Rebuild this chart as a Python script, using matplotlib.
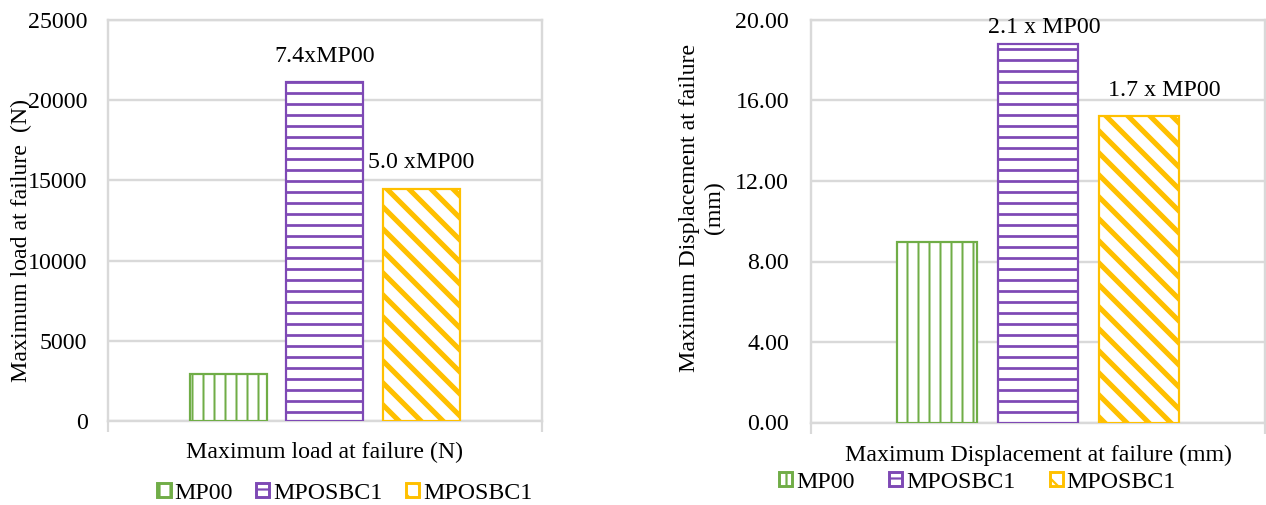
import matplotlib
matplotlib.use("Agg")
import matplotlib.pyplot as plt
from matplotlib.patches import Patch

plt.rcParams['font.family'] = ['Liberation Serif', 'DejaVu Serif']

series = ["MP00", "MPOSBC1", "MPOSBC1"]
load_values = [2920, 21130, 14460]
disp_values = [8.97, 18.81, 15.24]
load_labels = [None, "7.4xMP00", "5.0 xMP00"]
disp_labels = [None, "2.1 x MP00", "1.7 x MP00"]
load_ticks = [0, 5000, 10000, 15000, 20000, 25000]
disp_ticks = [0, 4, 8, 12, 16, 20]

colors = ['#70AD47', '#7E49B5', '#FFC000']
hatches = ['||', '--', '\\\\']
hatch_lw = [1.1, 1.5, 2.8]

DPI = 132
W, H = 1266, 505
fig = plt.figure(figsize=(W / DPI, H / DPI), dpi=DPI)
grid_c = '#D9D9D9'
FS = 13


def draw(ax, values, labels, ticks, fmt, ylabel, xlabel, ymax, lab_pos, pad):
    width = 0.177
    offs = [-0.222, 0.0, 0.222]
    for i, v in enumerate(values):
        with plt.rc_context({'hatch.linewidth': hatch_lw[i]}):
            b = ax.bar(offs[i], v, width=width, facecolor='white',
                       edgecolor=colors[i], hatch=hatches[i], linewidth=1.2,
                       zorder=3)
        for p in b:
            try:
                p.set_hatch_linewidth(hatch_lw[i])
            except Exception:
                pass
        if labels[i]:
            dx, dy = lab_pos[i]
            ax.text(offs[i] + dx, v + dy * ymax, labels[i], ha='center',
                    va='center', fontsize=FS)
    ax.set_xlim(-0.5, 0.5)
    ax.set_ylim(0, ymax)
    ax.set_yticks(ticks)
    ax.set_yticklabels([fmt(t) for t in ticks], fontsize=FS)
    ax.set_xticks([-0.5, 0.5])
    ax.set_xticklabels(['', ''])
    ax.tick_params(axis='x', length=6, color=grid_c, width=1.2)
    ax.tick_params(axis='y', length=0, pad=pad)
    ax.yaxis.grid(True, color=grid_c, linewidth=1.3, zorder=0)
    ax.set_axisbelow(True)
    for s in ax.spines.values():
        s.set_color(grid_c)
        s.set_linewidth(1.3)
    ax.set_ylabel(ylabel, fontsize=FS)
    ax.set_xlabel(xlabel, fontsize=FS)


def place_labels(ax, xl, yl):
    ax.xaxis.set_label_coords(*xl)
    ax.yaxis.set_label_coords(*yl)
    ax.xaxis.label.set_verticalalignment('center')
    ax.yaxis.label.set_verticalalignment('center')


def legend_for(ax, x, y, spacing):
    handles = [Patch(facecolor='white', edgecolor=colors[i], hatch=hatches[i],
                     linewidth=1.6) for i in range(3)]
    with plt.rc_context({'hatch.linewidth': 1.2}):
        leg = ax.legend(handles, series, loc='center',
                        bbox_to_anchor=(x, y), ncol=3, frameon=False,
                        fontsize=FS, handlelength=0.55, handleheight=0.55,
                        handletextpad=0.17, columnspacing=spacing,
                        borderaxespad=0, borderpad=0)
    return leg


# left chart: plot area 107.7..542 px, 20..421 px
ax1 = fig.add_axes([107.7 / W, 1 - 421 / H, 434.3 / W, 401 / H])
draw(ax1, load_values, load_labels, load_ticks, lambda t: f"{t:d}",
     "Maximum load at failure  (N)", "Maximum load at failure (N)", 25000,
     [None, (0.0, 0.065), (0.0, 0.065)], 11)
place_labels(ax1, (0.5, -0.0786), (-0.1995, 0.449))
legend_for(ax1, 0.546, -0.1796, 0.97)

# right chart: plot area 811..1265 px, 20..422.5 px
ax2 = fig.add_axes([811 / W, 1 - 422.5 / H, 454 / W, 402.5 / H])
draw(ax2, disp_values, disp_labels, disp_ticks, lambda t: f"{t:.2f}",
     "Maximum Displacement at failure\n(mm)",
     "Maximum Displacement at failure (mm)", 20,
     [None, (0.013, 0.042), (0.056, 0.064)], 12)
place_labels(ax2, (0.5, -0.081), (-0.240, 0.534))
legend_for(ax2, 0.367, -0.148, 1.43)

fig.savefig("out.png", dpi=DPI)
